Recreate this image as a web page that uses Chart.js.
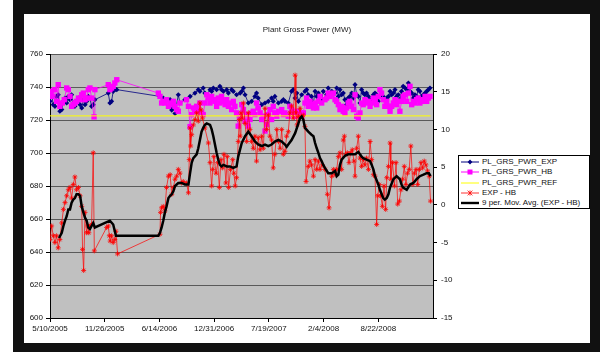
<!DOCTYPE html>
<html>
<head>
<meta charset="utf-8">
<script src="https://cdn.jsdelivr.net/npm/chart.js@4"></script>
<style>
  body { margin: 0; background: #fff; font-family: 'Liberation Sans', Arial, sans-serif; }
  #frame { position: absolute; left: 13px; top: 0; width: 587px; height: 352px; background: #111; }
  #inner { position: absolute; left: 24px; top: 14px; width: 566px; height: 329px; background: #fff; }
  #chart { position: absolute; left: 0; top: 0; }
  #title { position: absolute; left: 0; top: 11px; width: 566px; text-align: center; font-size: 8px; color: #222; }
  #legend { position: absolute; left: 434px; top: 141px; width: 130px; height: 52px; border: 1px solid #000; background: #fff; font-size: 8px; color: #111; }
  .row { position: absolute; left: 2px; height: 10px; line-height: 10px; white-space: nowrap; }
  .row svg { position: absolute; left: 0; top: 2px; }
  .row span { position: absolute; left: 21px; top: 0; }
</style>
</head>
<body>
<div id="frame"></div>
<div id="inner">
  <canvas id="chart" width="566" height="329"></canvas>
  <div id="title">Plant Gross Power (MW)</div>
  <div id="legend"></div>
</div>
<script>
// x values are days since 5/10/2005
const xTickLabels = ['5/10/2005', '11/26/2005', '6/14/2006', '12/31/2006', '7/19/2007', '2/4/2008', '8/22/2008'];
const seriesNames = ['PL_GRS_PWR_EXP', 'PL_GRS_PWR_HB', 'PL_GRS_PWR_REF', 'EXP - HB', '9 per. Mov. Avg. (EXP - HB)'];

const expDays = [0,6,12,18,24,30,36,43,49,55,61,67,73,79,85,91,97,104,110,116,122,128,134,140,146,152,158,164,213,219,225,231,237,244,
  402,414,439,445,451,457,469,475,493,512,530,542,548,560,566,573,585,591,597,609,621,627,634,646,652,664,670,682,
  695,701,707,713,725,737,749,755,761,774,786,798,810,816,822,835,847,853,859,871,883,889,896,902,908,920,932,938,944,956,963,969,975,981,993,999,1011,1017,1030,
  1042,1048,1054,1060,1066,1072,1078,1084,1090,1096,1103,1109,1115,1121,1127,1133,1139,1145,1151,1157,1164,1170,1176,1182,1188,1194,1200,1206,1212,1218,
  1224,1231,1237,1243,1249,1255,1261,1267,1273,1279,1285,1291,1298,1304,1310,1316,1322,1328,1334,1340,1346,1352,1358,1365,1371,1377,1383,1389];
const expValues = [731.3,735.3,729.3,728.3,734.3,735.3,725.3,726.3,731.3,733.3,730.3,734.3,732.3,735.3,730.3,728.3,731.3,733.3,729.3,727.3,732.3,729.3,731.3,734.3,733.3,728.3,729.3,732.3,736.3,730.3,731.3,737.4,738.4,738.4,
  734.3,733.3,732.3,726,731.3,724,735.3,730.3,732.3,734.3,736.3,738.4,737.4,739.4,736.3,735.3,738.4,737.4,739.4,738.4,740.4,738.4,737.4,738.4,736.3,738.4,737.4,735.3,
  736.3,737.4,739.4,735.3,730.3,731.3,734.3,736.3,733.3,729.3,730.3,731.3,733.3,731.3,734.3,730.3,731.3,732.3,731.3,730.3,737.4,738.4,733.3,736.3,731.3,735.3,737.4,738.4,735.3,734.3,730.3,737.4,734.3,736.3,732.3,737.4,735.3,739.4,737.4,
  736.3,739.4,734.3,738.4,735.3,736.3,732.3,729.3,733.3,734.3,736.3,733.3,741.4,735.3,734.3,730.3,738.4,736.3,735.3,736.3,734.3,732.3,731.3,735.3,736.3,735.3,731.3,734.3,736.3,734.3,
  732.3,733.3,734.3,737.4,735.3,736.3,738.4,734.3,735.3,732.3,737.4,740.4,739.4,738.4,742.4,737.4,736.3,733.3,735.3,734.3,738.4,737.4,734.3,735.3,736.3,737.4,738.4,739.4];

const hbDays = [3,8,16,24,30,36,45,52,61,67,73,79,85,91,97,104,110,116,122,128,134,140,146,152,161,164,213,219,225,231,237,244,
  396,402,408,414,420,426,433,439,445,451,457,463,469,475,499,506,512,518,524,530,536,542,548,554,560,566,573,579,585,591,597,603,609,615,621,627,634,640,646,652,658,664,670,676,682,688,
  695,701,707,713,719,725,731,737,743,749,755,761,768,774,780,786,792,798,804,810,816,822,829,835,847,853,859,871,877,883,889,896,902,908,914,920,926,932,938,944,950,956,963,969,975,981,987,993,1005,1011,1017,1023,1030,1036,
  1042,1048,1054,1060,1066,1072,1078,1084,1090,1096,1103,1109,1115,1121,1127,1133,1139,1145,1151,1157,1164,1170,1176,1182,1188,1194,1200,1206,1212,1218,
  1224,1231,1237,1243,1249,1255,1261,1267,1273,1279,1285,1291,1298,1304,1310,1316,1322,1328,1334,1340,1346,1352,1358,1365,1371,1377,1383,1389];
const hbValues = [737.4,734.3,738.4,731.3,741.4,728.3,730.3,732.3,739.4,738.4,734.3,728.3,729.3,730.3,731.3,733.3,732.3,735.3,736.3,732.3,733.3,738.4,739.4,733.3,721.9,738.4,741.4,738.4,739.4,740.4,742.4,744.4,
  736.3,734.3,730.3,731.3,730.3,732.3,728.3,729.3,730.3,731.3,728.3,726.3,725.3,730.3,732.3,728.3,716,723.3,727.3,725.3,728.3,725.3,730.3,724.3,723.3,730.3,735.3,733.3,730.3,734.3,732.3,731.3,728.3,733.3,730.3,734.3,731.3,729.3,732.3,728.3,730.3,726.3,731.3,728.3,724.3,716.3,
  722.3,729.3,726.3,719.3,723.3,716.3,720.3,724.3,725.3,723.3,730.3,727.3,724.3,720.3,722.3,713.3,717.3,723.3,726.3,720.3,728.3,724.3,722.3,725.3,726.3,723.3,724.3,722.3,728.3,726.3,724.3,722.3,725.3,723.3,724.3,722.3,724.3,730.3,733.3,728.3,731.3,729.3,727.3,730.3,727.3,731.3,734.3,730.3,732.3,733.3,736.3,734.3,735.3,736.3,
  732.3,731.3,729.3,726.3,728.3,725.3,724.3,727.3,730.3,731.3,728.3,726.3,735.3,722.3,721.3,724.3,730.3,729.3,732.3,730.3,731.3,728.3,730.3,733.3,731.3,729.3,734.3,738.4,736.3,732.3,
  728.3,731.3,728.3,725.3,728.3,730.3,732.3,729.3,731.3,725.3,731.3,734.3,735.3,731.3,736.3,740.4,729.3,731.3,730.3,732.3,733.3,730.3,731.3,732.3,734.3,731.3,733.3,734.3];

const refDays = [0, 1391];
const refValues = [722.5, 722.5];

const diffDays = [0,6,12,18,24,30,36,43,49,55,61,67,73,79,85,91,97,104,110,116,119,123,128,134,138,142,146,152,158,162,207,213,217,220,225,231,237,241,247,
  402,404,408,414,420,426,433,439,445,451,457,463,469,475,481,487,499,506,509,512,514,518,524,530,536,542,548,552,557,566,579,585,591,595,599,607,613,619,625,631,636,643,648,653,660,668,672,677,682,688,692,
  695,698,703,707,713,719,725,731,737,743,749,755,761,768,774,780,786,792,798,804,810,816,822,829,835,841,847,853,859,865,871,877,883,889,896,899,903,908,914,920,926,932,936,944,950,956,963,969,975,981,987,995,1005,1014,1020,1030,1036,
  1042,1048,1054,1060,1066,1072,1076,1081,1087,1093,1099,1105,1111,1115,1121,1127,1133,1139,1145,1151,1157,1164,1170,1176,1182,1188,1194,1198,1204,1209,
  1215,1221,1227,1231,1237,1243,1246,1252,1259,1265,1271,1277,1283,1289,1295,1301,1307,1313,1319,1326,1332,1338,1344,1350,1356,1362,1368,1374,1380,1386,1391];
const diffValues = [-4.6,-2.8,-4.1,-5.0,-4.1,-5.7,-4.6,-2.4,-0.6,0.3,1.2,2.0,2.3,0.9,2.7,3.7,2.0,2.3,1.2,-0.2,-5.9,-8.7,-1.0,-3.7,-2.8,-3.7,-2.8,-2.6,6.9,-6.1,-3.0,-2.8,-4.1,-4.8,-4.1,-5.0,-4.6,-3.5,-6.5,
  -3.9,-1.0,-0.4,-0.2,-0.8,2.3,3.8,4.0,1.4,2.3,3.4,3.8,4.7,4.2,2.9,3.1,2.9,1.6,6.0,10.2,7.8,9.3,10.6,11.3,12.2,11.1,13.5,12.6,11.5,10.2,8.2,5.6,2.5,4.7,6.4,4.2,5.6,2.3,6.0,4.9,6.7,2.9,6.4,2.3,4.7,6.0,4.2,2.5,3.6,8.4,11.3,
  9.1,12.2,11.5,13.5,10.8,8.4,12.2,10.0,8.4,7.5,9.1,5.8,8.9,7.3,9.1,7.5,12.8,10.0,11.9,9.1,8.6,4.9,6.7,10.0,8.4,7.5,10.0,6.7,7.1,9.1,9.7,12.2,13.1,11.5,17.2,12.2,10.6,11.7,12.8,11.7,11.9,10.4,3.1,5.1,5.8,5.3,3.8,6.0,4.7,5.8,4.7,5.3,4.7,1.4,-0.4,3.8,4.7,
  4.0,4.7,6.4,6.9,4.7,8.6,9.1,6.7,6.9,5.6,6.9,7.3,5.8,3.8,7.5,9.1,6.2,5.1,6.0,5.3,6.2,4.7,8.4,6.0,4.0,3.8,-2.6,1.2,2.7,1.2,
  -0.2,2.5,-0.6,3.6,5.1,8.2,3.4,5.6,2.5,5.6,0.1,0.5,2.0,3.4,5.1,2.7,4.2,4.7,7.8,2.7,4.2,4.7,2.7,4.7,5.6,4.9,5.8,5.3,4.5,3.8,0.5];

const mavgDays = [33,43,49,55,61,67,73,79,85,91,97,104,110,116,122,128,134,140,146,152,158,164,189,201,219,231,237,241,
  396,402,408,414,420,426,433,439,445,451,457,463,469,481,493,506,512,518,524,536,542,548,554,560,566,573,585,591,597,603,609,615,621,627,634,646,658,670,682,
  688,701,713,725,737,749,761,774,786,798,810,822,835,847,859,865,871,883,896,908,914,920,926,932,944,956,963,969,975,981,987,993,999,1005,1017,1030,1042,
  1048,1054,1060,1066,1078,1090,1103,1115,1127,1133,1139,1145,1157,1170,1176,1182,1188,1200,1206,1218,1224,1231,1237,1243,1255,1267,1279,1285,1291,1304,1316,1328,1340,1352,1365,1377,1385,1391];
const mavgValues = [-4.4,-3.7,-2.8,-2.1,-1.5,-0.6,-0.6,0.3,0.7,0.9,1.4,1.4,1.2,-0.2,-1.0,-1.7,-2.1,-3.0,-3.2,-2.8,-2.4,-3.0,-2.6,-2.4,-2.1,-2.6,-3.5,-4.1,
  -4.1,-3.7,-3.0,-2.1,-1.0,-0.2,0.9,1.2,1.4,1.8,2.5,2.7,2.9,2.9,2.7,2.7,4.2,5.6,6.2,6.7,7.5,8.6,9.7,10.2,10.6,10.8,10.6,10.0,9.1,8.0,6.9,6.0,5.3,5.1,5.3,5.1,5.1,4.9,5.1,
  6.4,8.2,9.1,9.7,9.1,8.4,8.0,7.8,8.0,7.8,8.0,8.4,8.6,8.4,8.0,7.7,8.0,8.6,9.5,10.8,11.5,11.7,11.3,10.2,9.7,9.3,9.1,8.2,7.5,6.9,6.2,5.8,5.3,4.9,4.2,4.2,4.5,
  3.8,4.0,5.3,6.0,6.5,6.7,6.7,6.7,7.0,6.7,6.4,6.2,6.0,5.8,5.3,4.7,3.8,2.7,2.0,0.9,0.7,0.9,1.4,2.3,3.4,3.8,3.4,2.7,2.3,2.0,2.7,2.9,3.4,3.8,4.0,4.2,4.2,3.8];

const colors = ['#000080', '#ff00ff', '#ffff00', '#ff0000', '#000000'];

function toPoints(days, values) {
  return days.map((d, i) => ({ x: d, y: values[i] }));
}

Chart.defaults.font.family = "'Liberation Sans', Arial, sans-serif";
Chart.defaults.font.size = 8;
Chart.defaults.color = '#111';

const plotBg = {
  id: 'plotBg',
  beforeDraw(chart) {
    const { ctx, chartArea: a } = chart;
    ctx.save();
    ctx.fillStyle = '#c0c0c0';
    ctx.fillRect(a.left, a.top, a.right - a.left, a.bottom - a.top);
    ctx.restore();
  }
};

new Chart(document.getElementById('chart'), {
  type: 'line',
  data: {
    datasets: [
      { label: seriesNames[0], data: toPoints(expDays, expValues), yAxisID: 'y', order: 4,
        borderColor: colors[0], borderWidth: 0.8, pointStyle: 'rectRot', pointRadius: 2.6,
        pointBackgroundColor: colors[0], pointBorderColor: colors[0], pointBorderWidth: 0 },
      { label: seriesNames[1], data: toPoints(hbDays, hbValues), yAxisID: 'y', order: 3,
        borderColor: colors[1], borderWidth: 0.8, pointStyle: 'rect', pointRadius: 3.8,
        pointBackgroundColor: colors[1], pointBorderColor: colors[1], pointBorderWidth: 0 },
      { label: seriesNames[2], data: toPoints(refDays, refValues), yAxisID: 'y', order: 2,
        borderColor: colors[2], borderWidth: 1, pointRadius: 0 },
      { label: seriesNames[3], data: toPoints(diffDays, diffValues), yAxisID: 'y2', order: 1,
        borderColor: colors[3], borderWidth: 0.7, pointStyle: 'star', pointRadius: 2.5,
        pointBorderColor: colors[3], pointBackgroundColor: colors[3], pointBorderWidth: 0.8 },
      { label: seriesNames[4], data: toPoints(mavgDays, mavgValues), yAxisID: 'y2', order: 0,
        borderColor: colors[4], borderWidth: 2.5, pointRadius: 0 }
    ]
  },
  options: {
    responsive: false,
    animation: false,
    layout: { padding: { top: 40, right: 117, bottom: 5, left: 0 } },
    plugins: { legend: { display: false }, tooltip: { enabled: false } },
    scales: {
      x: {
        type: 'linear', min: 0, max: 1400,
        afterFit: s => { s.height = 20; },
        grid: { drawOnChartArea: false, tickLength: 4, tickColor: '#000' },
        border: { color: '#000' },
        ticks: { stepSize: 200, autoSkip: false, maxRotation: 0, padding: 2,
          callback: v => xTickLabels[v / 200] ?? null }
      },
      y: {
        position: 'left', min: 600, max: 760,
        afterFit: s => { s.width = 26; },
        grid: { color: '#5a5a5a', tickLength: 4, tickColor: '#000' },
        border: { color: '#000' },
        ticks: { stepSize: 20, padding: 3 }
      },
      y2: {
        position: 'right', min: -15, max: 20,
        afterFit: s => { s.width = 40; },
        grid: { drawOnChartArea: false, tickLength: 4, tickColor: '#000' },
        border: { color: '#000' },
        ticks: { stepSize: 5, padding: 4 }
      }
    }
  },
  plugins: [plotBg]
});

// legend box drawn as html
const samples = [
  '<line x1="0" y1="3" x2="18" y2="3" stroke="#000080"/><path d="M9 0.6 L11.4 3 L9 5.4 L6.6 3 Z" fill="#000080"/>',
  '<line x1="0" y1="3" x2="18" y2="3" stroke="#ff00ff"/><rect x="6.5" y="0.5" width="5" height="5" fill="#ff00ff"/>',
  '<line x1="0" y1="3" x2="18" y2="3" stroke="#ffff00"/>',
  '<line x1="0" y1="3" x2="18" y2="3" stroke="#ff0000" stroke-width="0.8"/><path d="M6.6 0.6 L11.4 5.4 M11.4 0.6 L6.6 5.4 M9 0.4 L9 5.6" stroke="#ff0000" stroke-width="0.8"/>',
  '<line x1="0" y1="3" x2="18" y2="3" stroke="#000" stroke-width="2.4"/>'
];
const legend = document.getElementById('legend');
seriesNames.forEach((name, i) => {
  const row = document.createElement('div');
  row.className = 'row';
  row.style.top = (1 + i * 10.3) + 'px';
  row.innerHTML = `<svg width="18" height="6">${samples[i]}</svg><span>${name}</span>`;
  legend.appendChild(row);
});
</script>
</body>
</html>
